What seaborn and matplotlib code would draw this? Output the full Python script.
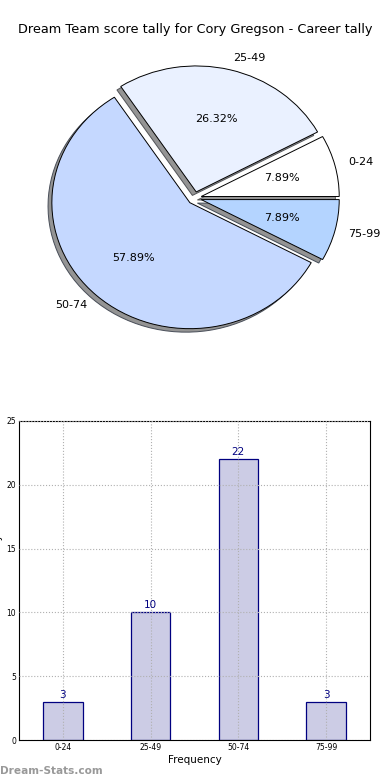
import matplotlib
matplotlib.use("Agg")
import matplotlib.pyplot as plt
import seaborn as sns
import pandas as pd

sns.set_theme(style="white")
plt.rcParams['font.family'] = ['DejaVu Sans']
plt.rcParams.update({'text.color': 'black', 'axes.labelcolor': 'black',
                     'xtick.color': 'black', 'ytick.color': 'black'})

categories = ["0-24", "25-49", "50-74", "75-99"]
counts = [3, 10, 22, 3]
pie_colors = ["#ffffff", "#eaf1ff", "#c5d8ff", "#b4d4ff"]
title = "Dream Team score tally for Cory Gregson - Career tally"

fig = plt.figure(figsize=(3.9, 7.8), dpi=100)

# Pie
axp = fig.add_axes([0.0565, 0.5442, 0.8846, 0.4038])
wedges, texts, autotexts = axp.pie(
    counts, labels=categories, colors=pie_colors, autopct='%1.2f%%',
    explode=[0.05] * 4, shadow=dict(facecolor='#888888', alpha=0.9),
    startangle=0,
    wedgeprops=dict(edgecolor='black', linewidth=0.7),
    textprops=dict(fontsize=8, color='black'))
axp.set_aspect('auto')
axp.set_xlim(-1.25, 1.25)
axp.set_ylim(-1.25, 1.25)
fig.text(0.5, 1 - 30 / 780, title, ha='center', va='center', fontsize=9.3,
         color='black')

# Bar
axb = fig.add_axes([19 / 390, 1 - 740 / 780, 351 / 390, 319 / 780])
df = pd.DataFrame({"range": categories, "count": counts})
sns.barplot(data=df, x="range", y="count", ax=axb, color="#ccccE5",
            edgecolor="navy", linewidth=0.9, width=0.45, saturation=1)
for p, v in zip(axb.patches, counts):
    axb.text(p.get_x() + p.get_width() / 2, v + 0.15, str(v), ha='center',
             va='bottom', color='navy', fontsize=7.5)
axb.set_xlim(-0.5, 3.5)
axb.set_ylim(0, 25)
axb.set_yticks([0, 5, 10, 15, 20, 25])
axb.grid(True, linestyle=':', color='#b0b0b0', linewidth=0.8)
axb.set_axisbelow(False)
for s in axb.spines.values():
    s.set_color('black')
    s.set_linewidth(0.8)
axb.tick_params(axis='both', labelsize=5.5, length=2, direction='in', pad=2)
axb.set_xlabel("Frequency", fontsize=7.5, labelpad=2)
axb.set_ylabel("Dream Team Tally", fontsize=7.5)
axb.yaxis.set_label_coords(-0.047, 0.5)

fig.text(0.0, 1 - 771 / 780, "Dream-Stats.com", ha='left', va='center',
         fontsize=7.6, color='#999999', fontweight='bold')

fig.savefig("out.png", dpi=100)
